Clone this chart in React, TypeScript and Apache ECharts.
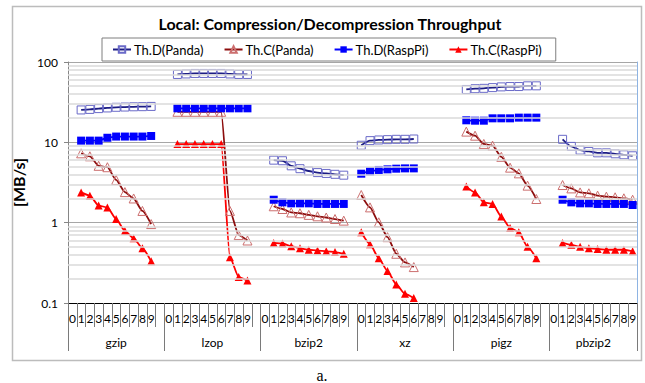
import { useEffect, useRef } from 'react';
import * as echarts from 'echarts';

// ---- data ----
const groups = ['gzip', 'lzop', 'bzip2', 'xz', 'pigz', 'pbzip2'];
const groupSizes = [11, 11, 11, 11, 11, 10];
const levelLabels = ['0', '1', '2', '3', '4', '5', '6', '7', '8', '9'];
const firstLevel = [1, 1, 1, 0, 1, 1];

const thDPanda = [
  [25.3, 25.7, 26.3, 26.8, 27.3, 27.5, 27.7, 27.8, 28.0],
  [70, 71, 72, 72, 72, 72, 71, 70, 70],
  [6.0, 5.9, 5.1, 4.7, 4.4, 4.2, 4.1, 4.0, 3.9],
  [9.2, 10.5, 10.7, 10.8, 10.9, 10.9, 11.0],
  [45.5, 46.5, 47, 48, 49, 49.5, 49.5, 50.5, 50.5],
  [10.9, 8.9, 8.0, 7.7, 7.4, 7.4, 7.2, 7.0, 6.8],
];
const thCPanda = [
  [7.3, 6.7, 5.1, 4.9, 3.4, 2.4, 2.0, 1.4, 0.96],
  [24, 24, 24, 24, 24, 24, 1.4, 0.7, 0.6],
  [1.6, 1.48, 1.34, 1.31, 1.25, 1.2, 1.16, 1.11, 1.06],
  [2.21, 1.55, 1.01, 0.66, 0.41, 0.32, 0.28],
  [13.6, 12.1, 9.55, 9.1, 6.6, 4.84, 4.11, 2.89, 1.97],
  [2.94, 2.67, 2.38, 2.32, 2.17, 2.11, 2.07, 2.01, 1.93],
];
const thDRasp = [
  [10.5, 10.5, 10.5, 11.4, 11.8, 11.8, 11.8, 11.8, 12.0],
  [26.5, 26.5, 26.5, 26.5, 26.5, 26.5, 26.5, 26.5, 26.5],
  [1.93, 1.79, 1.74, 1.74, 1.74, 1.71, 1.71, 1.71, 1.71],
  [4.07, 4.35, 4.53, 4.61, 4.7, 4.74, 4.74],
  [18.8, 18.6, 18.6, 19.9, 19.9, 19.9, 20.3, 20.3, 20.3],
  [1.93, 1.79, 1.74, 1.74, 1.71, 1.71, 1.71, 1.71, 1.66],
];
const thCRasp = [
  [2.38, 2.17, 1.63, 1.55, 1.11, 0.79, 0.64, 0.48, 0.33],
  [9.5, 9.5, 9.5, 9.5, 9.5, 9.5, 0.37, 0.21, 0.19],
  [0.56, 0.55, 0.51, 0.48, 0.46, 0.45, 0.44, 0.43, 0.41],
  [0.76, 0.54, 0.36, 0.25, 0.17, 0.13, 0.115],
  [2.81, 2.38, 1.79, 1.71, 1.19, 0.86, 0.76, 0.5, 0.36],
  [0.56, 0.53, 0.5, 0.48, 0.47, 0.46, 0.46, 0.46, 0.44],
];
const yTicks = [0.1, 1, 10, 100];
const minorGrid = [0.2, 0.3, 0.4, 0.5, 0.6, 0.7, 0.8, 0.9, 2, 3, 4, 5, 6, 7, 8, 9, 20, 30, 40, 50, 60, 70, 80, 90];

// ---- derived ----
const groupStarts: number[] = [];
const categories: string[] = [];
const groupCats: any[] = [];
groupSizes.forEach((size, g) => {
  groupStarts.push(categories.length);
  for (let k = 0; k < size; k++) {
    categories.push(k < 10 ? levelLabels[k] : '');
    const mid = Math.floor((size - 1) / 2);
    if (k === mid) {
      groupCats.push(size % 2 === 0
        ? { value: groups[g], textStyle: { padding: [0, 0, 0, 9] } }
        : groups[g]);
    } else groupCats.push('');
  }
});

const FONT = 'Lato';

const seriesDefs = [
  { name: 'Th.D(Panda)', values: thDPanda, symbol: 'rect', symbolSize: 8, line: '#1c1c84', item: { color: 'rgba(255,255,255,0)', borderColor: '#6a6ac8', borderWidth: 1 } },
  { name: 'Th.C(Panda)', values: thCPanda, symbol: 'triangle', symbolSize: 9, line: '#8c0d0d', item: { color: 'rgba(255,255,255,0)', borderColor: '#cc6f6f', borderWidth: 1 } },
  { name: 'Th.D(RaspPi)', values: thDRasp, symbol: 'rect', symbolSize: 8, line: '#0000ff', item: { color: '#0000ff' } },
  { name: 'Th.C(RaspPi)', values: thCRasp, symbol: 'triangle', symbolSize: 8, line: '#ff0000', item: { color: '#ff0000' } },
];

function buildSeries() {
  const out: any[] = [
    {
      type: 'line',
      name: 'minor-grid',
      data: categories.map(() => null),
      z: 1,
      silent: true,
      markLine: {
        silent: true,
        symbol: ['none', 'none'],
        label: { show: false },
        lineStyle: { color: '#dadada', type: 'solid', width: 1.5 },
        data: minorGrid.map((v) => ({ yAxis: v })),
      },
    },
  ];
  seriesDefs.forEach((d) => {
    d.values.forEach((vals, g) => {
      out.push({
        type: 'line',
        name: d.name,
        xAxisIndex: 0,
        yAxisIndex: 0,
        data: vals.map((v, k) => [groupStarts[g] + firstLevel[g] + k, v]),
        symbol: d.symbol,
        symbolSize: d.symbolSize,
        smooth: 0.2,
        smoothMonotone: 'x',
        lineStyle: { color: d.line, width: 1.8 },
        itemStyle: d.item,
        z: 3,
      });
    });
  });
  return out;
}

export default function App() {
  const ref = useRef<HTMLDivElement>(null);
  useEffect(() => {
    const chart = echarts.init(ref.current!, null, { renderer: 'svg' });
    chart.setOption({
      animation: false,
      backgroundColor: '#ffffff',
      textStyle: { fontFamily: FONT },
      graphic: [
        {
          type: 'rect',
          shape: { x: 12.5, y: 6.5, width: 629, height: 354 },
          style: { fill: 'none', stroke: '#bcbcbc', lineWidth: 1.5 },
          silent: true,
        },
        {
          type: 'text',
          x: 330,
          y: 23,
          style: {
            text: 'Local: Compression/Decompression Throughput',
            fontFamily: FONT,
            fontWeight: 'bold',
            fontSize: 16,
            fill: '#000',
            align: 'center',
            verticalAlign: 'middle',
          },
        },
        {
          type: 'text',
          x: 322,
          y: 375,
          style: {
            text: 'a.',
            fontFamily: 'Liberation Serif',
            fontSize: 16,
            fill: '#000',
            align: 'center',
            verticalAlign: 'middle',
          },
        },
      ],
      legend: {
        data: seriesDefs.map((d) => d.name),
        left: 102,
        top: 38,
        itemWidth: 18,
        itemHeight: 8,
        itemGap: 20,
        padding: [5, 14, 5, 10],
        borderColor: '#7f7f7f',
        borderWidth: 1,
        textStyle: { fontFamily: FONT, fontSize: 13, color: '#000', padding: [0, 0, 0, -2] },
      },
      grid: { left: 68, right: 8, top: 62, bottom: 80, containLabel: false },
      xAxis: [
        {
          type: 'category',
          data: categories,
          position: 'bottom',
          boundaryGap: true,
          axisLine: { show: true, lineStyle: { color: '#000', width: 1 } },
          axisTick: { show: true, interval: 0, length: 24, lineStyle: { color: '#7a7a7a' } },
          axisLabel: { interval: 0, margin: 9, fontSize: 12, color: '#000', fontFamily: FONT },
          splitLine: { show: false },
        },
        {
          type: 'category',
          data: groupCats,
          position: 'bottom',
          boundaryGap: true,
          axisLine: { show: false },
          axisTick: {
            show: true,
            interval: (i: number) => groupStarts.includes(i),
            length: 48,
            lineStyle: { color: '#7a7a7a' },
          },
          axisLabel: { interval: 0, margin: 33, fontSize: 12, color: '#000', fontFamily: FONT },
          splitLine: { show: false },
        },
      ],
      yAxis: [
        {
          type: 'log',
          logBase: 10,
          min: yTicks[0],
          max: yTicks[yTicks.length - 1],
          axisLine: { show: true, lineStyle: { color: '#868686' } },
          axisTick: { show: true, length: 4, lineStyle: { color: '#868686' } },
          axisLabel: {
            fontSize: 12,
            margin: 10,
            color: '#000',
            fontFamily: FONT,
            formatter: (v: number) => String(yTicks.find((t) => Math.abs(t - v) / t < 1e-6) ?? v),
          },
          splitLine: { show: true, lineStyle: { color: '#a6a6a6', width: 1 } },
          name: '[MB/s]',
          nameLocation: 'middle',
          nameRotate: 90,
          nameGap: 35,
          nameTextStyle: { fontFamily: FONT, fontWeight: 'bold', fontSize: 16, color: '#000' },
        },
        {
          type: 'log',
          logBase: 10,
          min: yTicks[0],
          max: yTicks[yTicks.length - 1],
          position: 'right',
          axisLine: { show: true, lineStyle: { color: '#8eb4e3' } },
          axisTick: { show: false },
          axisLabel: { show: false },
          splitLine: { show: false },
        },
      ],
      series: buildSeries(),
    });
    return () => chart.dispose();
  }, []);
  return (
    <div
      ref={ref}
      style={{ position: 'absolute', left: 0, top: 0, width: 645, height: 383, background: '#fff' }}
    />
  );
}
